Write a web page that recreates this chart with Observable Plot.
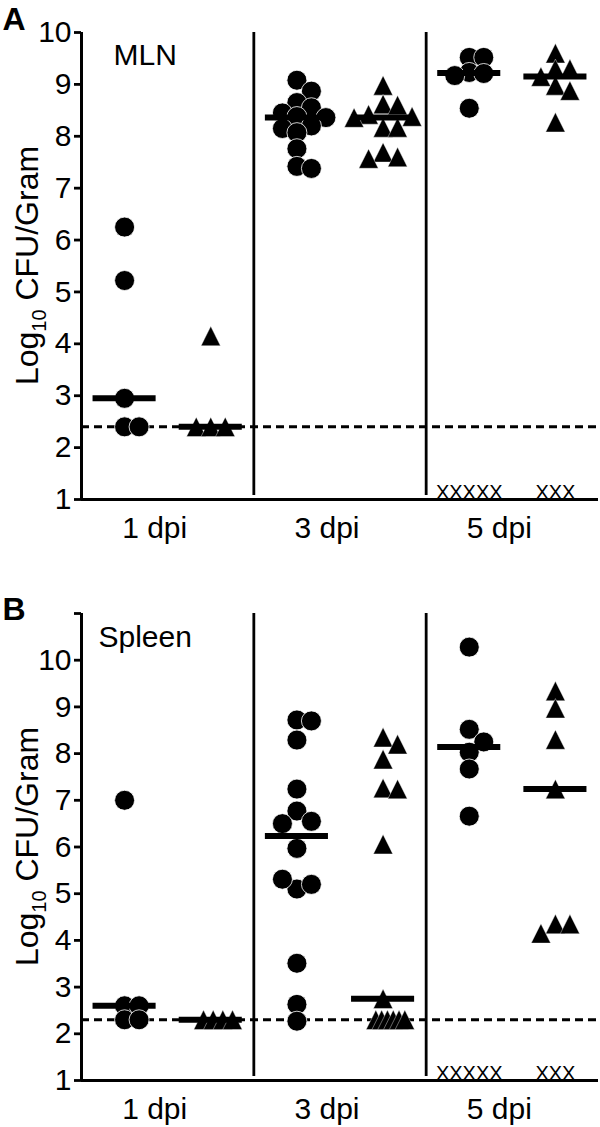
<!DOCTYPE html>
<html><head><meta charset="utf-8">
<script src="https://cdn.jsdelivr.net/npm/d3@7"></script>
<script src="https://cdn.jsdelivr.net/npm/@observablehq/plot@0.6"></script>
<style>body{margin:0;background:#fff;} #chart svg{display:block;}</style>
</head><body><div id="chart"></div>
<script>
// ---- data ----
const dpiLabels = ["1 dpi", "3 dpi", "5 dpi"];
const mlnLod = 2.4;
const spleenLod = 2.3;
// MLN (panel A), circles and triangles per dpi
const mlnCircles1 = [6.25, 5.22, 2.95, 2.4, 2.4];
const mlnCircles3 = [9.08, 8.87, 8.65, 8.55, 8.45, 8.38, 8.36, 8.2, 8.15, 8.07, 7.76, 7.42, 7.38];
const mlnCircles5 = [9.52, 9.52, 9.23, 9.21, 9.17, 8.54];
const mlnTriangles1 = [4.15, 2.4, 2.4, 2.4];
const mlnTriangles3 = [8.98, 8.62, 8.6, 8.42, 8.38, 8.36, 8.17, 8.17, 7.69, 7.6, 7.57];
const mlnTriangles5 = [9.6, 9.3, 9.3, 9.15, 8.98, 8.88, 8.27];
// Spleen (panel B)
const spleenCircles1 = [7.0, 2.6, 2.6, 2.3, 2.3];
const spleenCircles3 = [8.72, 8.7, 8.29, 7.24, 6.77, 6.55, 6.5, 5.97, 5.1, 5.2, 5.31, 3.51, 2.63, 2.27];
const spleenCircles5 = [10.28, 8.52, 8.25, 8.03, 7.67, 6.66];
const spleenTriangles1 = [2.3, 2.3, 2.3, 2.3];
const spleenTriangles3 = [8.35, 8.2, 7.88, 7.26, 7.24, 6.06, 2.75, 2.3, 2.3, 2.3, 2.3, 2.3, 2.3];
const spleenTriangles5 = [9.34, 8.97, 8.3, 7.24, 4.35, 4.35, 4.15];
// animals that died (shown as X on the axis)
const deadCircles = [0, 0, 5];
const deadTriangles = [0, 0, 3];

// ---- helpers ----
const tri = {
  draw(ctx, size) {
    const r = Math.sqrt(size / Math.PI) * 0.97;
    ctx.moveTo(0, -r);
    ctx.lineTo(r, r);
    ctx.lineTo(-r, r);
    ctx.closePath();
  }
};

// simple scatter-dot layout: greedy horizontal spreading, then identical
// values are evenly packed (tighter when there are many)
function spread(values, pxX, pxY, step, minPx) {
  const placed = [];
  const order = [0, 1, -1, 2, -2, 3, -3, 4, -4];
  for (const v of values) {
    for (const k of order) {
      const ox = k * step;
      const ok = placed.every(p => Math.hypot((p.ox - ox) * pxX, (p.v - v) * pxY) >= minPx);
      if (ok) { placed.push({v, ox}); break; }
    }
  }
  const groups = d3.group(placed, p => p.v);
  for (const [, g] of groups) {
    if (g.length < 2) continue;
    const mean = d3.mean(g, p => p.ox);
    const sp = Math.min(step, 2 * step / (g.length - 1));
    g.forEach((p, i) => { p.ox = mean + (i - (g.length - 1) / 2) * sp; });
  }
  return placed;
}

function panel(o) {
  const width = 600, ml = 81, mr = 2;
  const pxX = (width - ml - mr) / 6;
  const pxY = (o.height - o.mt - o.mb) / (o.yMax - 1);
  const step = 14.5 / pxX;
  const pts = [], meds = [], dead = [];
  [o.circles, o.triangles].forEach((series, s) => series.forEach((vals, g) => {
    const slot = 2 * g + 0.5 + s;
    spread(vals, pxX, pxY, step, 14).forEach(p => pts.push({x: slot + p.ox, y: p.v, s}));
    if (vals.length) meds.push({y: d3.median(vals), x1: slot - 0.366, x2: slot + 0.366});
    const n = (s ? deadTriangles : deadCircles)[g];
    if (n) dead.push({x: slot, text: "X".repeat(n)});
  }));
  const svg = Plot.plot({
    width, height: o.height,
    marginTop: o.mt, marginBottom: o.mb, marginLeft: ml, marginRight: mr,
    style: {fontFamily: "'Liberation Sans', Arial, sans-serif", background: "white", color: "black", overflow: "visible"},
    x: {domain: [0, 6]},
    y: {domain: [1, o.yMax]},
    marks: [
      Plot.ruleY([o.lod], {strokeWidth: 3, strokeDasharray: "8,5"}),
      Plot.ruleX([2, 4], {y1: 1, y2: o.yMax, strokeWidth: 2.8, insetTop: -4}),
      Plot.ruleX([0], {y1: 1, y2: o.yMax, strokeWidth: 3}),
      Plot.ruleY([1], {strokeWidth: 3}),
      Plot.axisY({ticks: d3.range(1, o.yMax + 1), tickFormat: d => d > 10 ? "" : d, tickSize: 7, tickPadding: 3, fontSize: 30, strokeWidth: 2.8, label: null}),
      Plot.axisX({ticks: dpiLabels.map((_, i) => 2 * i + 1), tickFormat: d => dpiLabels[(d - 1) / 2], tickSize: 0, tickPadding: 17, dx: -13, fontSize: 30, label: null}),
      Plot.dot(pts.filter(d => !d.s), {x: "x", y: "y", r: 10, fill: "black", stroke: "white", strokeWidth: 0.8}),
      Plot.dot(pts.filter(d => d.s), {x: "x", y: "y", r: 10, symbol: tri, fill: "black", stroke: "white", strokeWidth: 0.4}),
      Plot.ruleY(meds, {y: "y", x1: "x1", x2: "x2", strokeWidth: 6}),
      Plot.text(dead, {x: "x", y: 1, text: "text", fontSize: 20, lineAnchor: "bottom", dy: -1}),
      Plot.text([o.organ], {text: d => d, frameAnchor: "top-left", dx: o.organDx, dy: o.organDy, fontSize: 30, lineAnchor: "top", textAnchor: "start"}),
      Plot.text([o.tag], {text: d => d, frameAnchor: "top-left", dx: -79, dy: o.tagDy, fontSize: 32, fontWeight: "bold", lineAnchor: "top", textAnchor: "start"})
    ]
  });
  const lab = d3.select(svg).append("text")
    .attr("transform", `translate(38,${(o.mt + o.height - o.mb) / 2}) rotate(-90)`)
    .attr("text-anchor", "middle")
    .attr("font-size", 32)
    .attr("font-family", "'Liberation Sans', Arial, sans-serif")
    .attr("fill", "black");
  lab.append("tspan").text("Log");
  lab.append("tspan").attr("dy", 8).attr("font-size", 20).text("10");
  lab.append("tspan").attr("dy", -8).text(" CFU/Gram");
  return svg;
}

const chart = document.getElementById("chart");
chart.appendChild(panel({
  circles: [mlnCircles1, mlnCircles3, mlnCircles5],
  triangles: [mlnTriangles1, mlnTriangles3, mlnTriangles5],
  lod: mlnLod, yMax: 10, height: 560, mt: 32, mb: 61,
  tag: "A", tagDy: -25, organ: "MLN", organDx: 32, organDy: 11
}));
chart.appendChild(panel({
  circles: [spleenCircles1, spleenCircles3, spleenCircles5],
  triangles: [spleenTriangles1, spleenTriangles3, spleenTriangles5],
  lod: spleenLod, yMax: 11, height: 567, mt: 53, mb: 47,
  tag: "B", tagDy: -16, organ: "Spleen", organDx: 17, organDy: 12
}));
</script>
</body></html>
